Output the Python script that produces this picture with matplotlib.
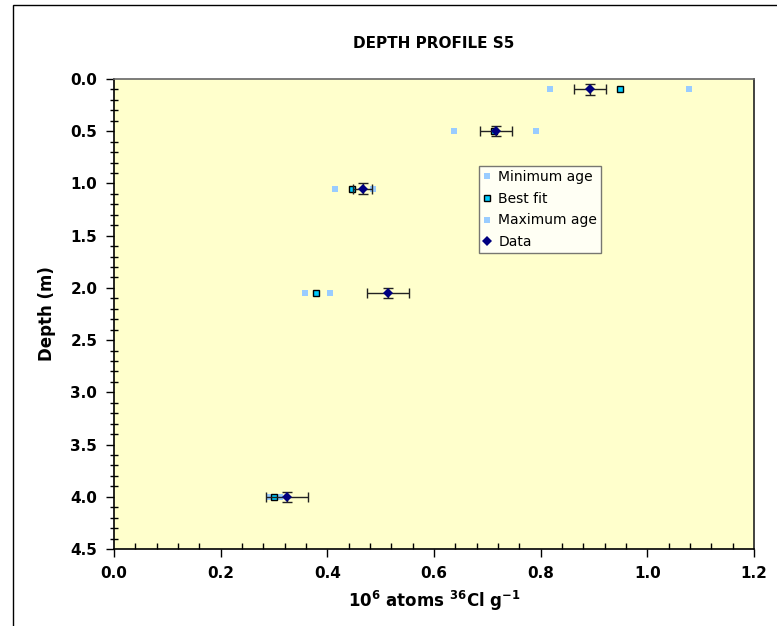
import matplotlib
matplotlib.use("Agg")
import matplotlib.pyplot as plt
from matplotlib.patches import Rectangle
from matplotlib.ticker import MultipleLocator, FormatStrFormatter

# depth profile S5: concentrations in 10^6 atoms 36Cl per gram
depth = [0.1, 0.5, 1.05, 2.05, 4.0]
min_age = [0.818, 0.638, 0.414, 0.359, 0.293]
best_fit = [0.948, 0.712, 0.447, 0.378, 0.300]
max_age = [1.078, 0.791, 0.486, 0.405, 0.311]
data_x = [0.893, 0.716, 0.466, 0.514, 0.324]
data_xerr = [0.030, 0.030, 0.017, 0.040, 0.039]
data_yerr = [0.05, 0.05, 0.05, 0.05, 0.05]

plt.rcParams['font.family'] = ['DejaVu Sans']

fig = plt.figure(figsize=(7.77, 6.26), dpi=100)
fig.patches.append(Rectangle((13 / 777, -0.1), 1.2, 1 - 5 / 626 + 0.1,
                             transform=fig.transFigure, fill=False,
                             edgecolor='black', linewidth=1.0))
ax = fig.add_axes([114 / 777, 1 - 549 / 626, 640 / 777, 470 / 626])
ax.set_facecolor('#FFFFCC')

ax.plot(min_age, depth, 's', color='#99CCFF', markersize=5,
        markeredgewidth=0, label='Minimum age', zorder=3)
ax.plot(best_fit, depth, 's', color='#00CCFF', markersize=5,
        markeredgecolor='black', markeredgewidth=1.0, label='Best fit', zorder=4)
ax.plot(max_age, depth, 's', color='#99CCFF', markersize=5,
        markeredgewidth=0, label='Maximum age', zorder=3)
ax.errorbar(data_x, depth, xerr=data_xerr, yerr=data_yerr, fmt='none',
            ecolor='#222222', elinewidth=1.0, capsize=3.5, capthick=1.0, zorder=5)
ax.plot(data_x, depth, 'D', color='#000080', markersize=5,
        markeredgewidth=0, label='Data', zorder=6)

ax.set_xlim(0, 1.2)
ax.set_ylim(4.5, 0)
ax.xaxis.set_major_locator(MultipleLocator(0.2))
ax.xaxis.set_minor_locator(MultipleLocator(0.04))
ax.yaxis.set_major_locator(MultipleLocator(0.5))
ax.yaxis.set_minor_locator(MultipleLocator(0.1))
ax.xaxis.set_major_formatter(FormatStrFormatter('%.1f'))
ax.yaxis.set_major_formatter(FormatStrFormatter('%.1f'))
ax.tick_params(axis='both', which='major', direction='out', length=6,
               width=1, labelsize=11, pad=6)
ax.tick_params(axis='x', which='minor', direction='in', length=4, width=1)
ax.tick_params(axis='y', which='minor', direction='inout', length=6, width=1)
for lbl in ax.get_xticklabels() + ax.get_yticklabels():
    lbl.set_fontweight('bold')

ax.spines['top'].set_color('#666666')
ax.spines['right'].set_color('#222222')
for s in ax.spines.values():
    s.set_linewidth(1.2)

ax.set_title('DEPTH PROFILE S5', fontsize=11, fontweight='bold', pad=22)
ax.set_ylabel('Depth (m)', fontsize=12, fontweight='bold', labelpad=10)
ax.set_xlabel(r'10$^{\mathbf{6}}$ atoms $^{\mathbf{36}}$Cl g$^{\mathbf{-1}}$',
              fontsize=12, fontweight='bold', labelpad=6)

leg = ax.legend(loc='upper left', bbox_to_anchor=(0.570, 0.815),
                fontsize=10, frameon=True, fancybox=False, handlelength=0.6,
                handletextpad=0.5, borderpad=0.3, labelspacing=0.55,
                borderaxespad=0)
leg.get_frame().set_edgecolor('#555555')
leg.get_frame().set_facecolor('white')
leg.get_frame().set_linewidth(1.0)

fig.savefig('out.png', dpi=100)
